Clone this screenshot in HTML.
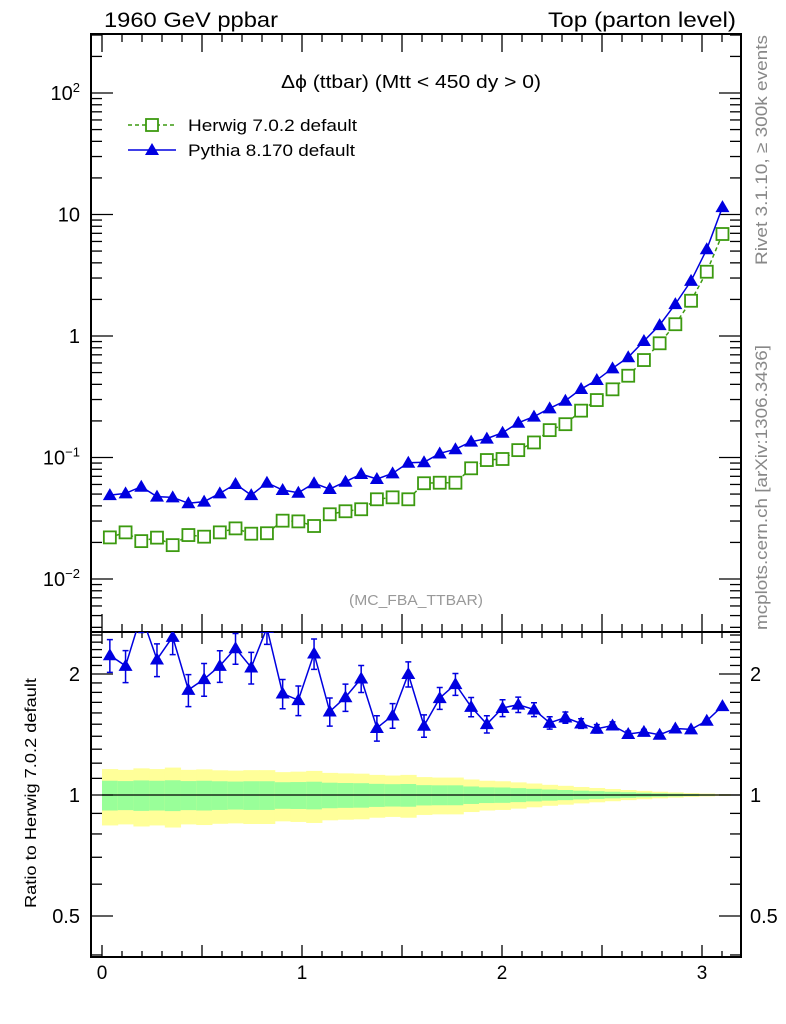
<!DOCTYPE html>
<html><head><meta charset="utf-8">
<style>
html,body{margin:0;padding:0;background:#fff;}
svg{display:block;font-family:"Liberation Sans",Arial,sans-serif;}
</style></head>
<body>
<svg id="chart" width="786" height="1024" viewBox="0 0 786 1024" xmlns="http://www.w3.org/2000/svg">
<g id="bands"></g>
<g id="axes"></g>
<g id="series"></g>
<text x="104" y="27" font-size="21" textLength="174" lengthAdjust="spacingAndGlyphs">1960 GeV ppbar</text>
<text x="548" y="27" font-size="21" textLength="188" lengthAdjust="spacingAndGlyphs">Top (parton level)</text>
<text x="281" y="88" font-size="18" textLength="260" lengthAdjust="spacingAndGlyphs">Δϕ (ttbar) (Mtt &lt; 450 dy &gt; 0)</text>
<text x="349" y="605" font-size="15" fill="#999" textLength="134" lengthAdjust="spacingAndGlyphs">(MC_FBA_TTBAR)</text>
<text transform="translate(767,265) rotate(-90)" font-size="17" fill="#888" textLength="230" lengthAdjust="spacingAndGlyphs">Rivet 3.1.10, ≥ 300k events</text>
<text transform="translate(767,630) rotate(-90)" font-size="17" fill="#888" textLength="285" lengthAdjust="spacingAndGlyphs">mcplots.cern.ch [arXiv:1306.3436]</text>
<text transform="translate(36,908) rotate(-90)" font-size="16" textLength="230" lengthAdjust="spacingAndGlyphs">Ratio to Herwig 7.0.2 default</text>
<g>
  <g>
    <line x1="128" y1="125" x2="176" y2="125" stroke="#3c9a10" stroke-width="1.5" stroke-dasharray="4,3"/>
    <rect x="146" y="119" width="12" height="12" fill="#fff" stroke="#3c9a10" stroke-width="1.8"/>
    <text x="188" y="131" font-size="17" textLength="169" lengthAdjust="spacingAndGlyphs">Herwig 7.0.2 default</text>
  </g>
  <g>
    <line x1="128" y1="150" x2="176" y2="150" stroke="#0000e0" stroke-width="1.5"/>
    <polygon points="152,143 159,155 145,155" fill="#0000e0"/>
    <text x="188" y="156" font-size="17" textLength="167" lengthAdjust="spacingAndGlyphs">Pythia 8.170 default</text>
  </g>
</g>
</svg>
<script>
const herwig=[0.0220,0.0242,0.0205,0.0219,0.0190,0.0230,0.0223,0.0242,0.0261,0.0236,0.0238,0.0302,0.0298,0.0273,0.0341,0.0361,0.0375,0.0453,0.0470,0.0453,0.0614,0.0620,0.0620,0.0815,0.0953,0.0972,0.115,0.133,0.168,0.188,0.243,0.297,0.364,0.471,0.634,0.871,1.25,1.95,3.38,6.91];
const pythia=[0.049,0.0507,0.0575,0.0476,0.047,0.042,0.0433,0.0507,0.0605,0.049,0.062,0.054,0.0513,0.0614,0.055,0.0632,0.0731,0.0665,0.0741,0.0906,0.0913,0.108,0.117,0.135,0.143,0.16,0.193,0.217,0.254,0.293,0.366,0.434,0.542,0.668,0.91,1.23,1.83,2.84,5.17,11.5];
const statErr=[0.085,0.083,0.087,0.085,0.088,0.083,0.085,0.082,0.080,0.082,0.082,0.076,0.077,0.079,0.073,0.071,0.070,0.066,0.064,0.065,0.058,0.057,0.057,0.050,0.045,0.044,0.040,0.036,0.032,0.029,0.025,0.022,0.019,0.016,0.013,0.010,0.008,0.006,0.004,0.003];
const totErr=[0.160,0.155,0.165,0.160,0.170,0.155,0.158,0.152,0.150,0.153,0.153,0.140,0.143,0.148,0.135,0.132,0.130,0.122,0.118,0.122,0.108,0.105,0.105,0.093,0.085,0.082,0.075,0.068,0.060,0.054,0.047,0.041,0.035,0.029,0.024,0.019,0.015,0.011,0.008,0.005];
const xTicks=[0,1,2,3];
const yMainTicks=[100,10,1,0.1,0.01];
const yMainLabels=["10<tspan dy='-8' font-size='13'>2</tspan>","10","1","10<tspan dy='-8' font-size='13'>−1</tspan>","10<tspan dy='-8' font-size='13'>−2</tspan>"];
const yRatioTicks=[2,1,0.5];
const yRatioLabels=["2","1","0.5"];

const NS="http://www.w3.org/2000/svg";
const L=91,R=741,T=34,M=632,B=957;
const nb=herwig.length, binW=Math.PI/nb;
const X=v=>102+200*v;
const Y=v=>336-121.5*Math.log10(v);
const YR=v=>795-402*Math.log10(v);
function mk(tag,attrs,parent){const e=document.createElementNS(NS,tag);for(const k in attrs)e.setAttribute(k,attrs[k]);parent.appendChild(e);return e;}
const axes=document.getElementById('axes'),series=document.getElementById('series'),bands=document.getElementById('bands');

for(let i=0;i<nb;i++){
  const x0=X(i*binW),x1=X((i+1)*binW);
  const y=mk('rect',{x:x0,y:YR(1+totErr[i]),width:x1-x0+0.5,height:YR(1-totErr[i])-YR(1+totErr[i]),fill:'#ffff99'},bands);
  
  
  const g=mk('rect',{x:x0,y:YR(1+statErr[i]),width:x1-x0+0.5,height:YR(1-statErr[i])-YR(1+statErr[i]),fill:'#99ff99'},bands);
  
  
}
const ref=mk('line',{x1:X(0),y1:YR(1),x2:R,y2:YR(1),stroke:'#000','stroke-width':1.3},bands);



const f1=mk('rect',{x:L,y:T,width:R-L,height:M-T,fill:'none',stroke:'#000','stroke-width':2},axes);


const f2=mk('rect',{x:L,y:M,width:R-L,height:B-M,fill:'none',stroke:'#000','stroke-width':2},axes);



for(let k=0;k<=32;k++){
  const v=k*0.1; if(X(v)>R-1) break;
  const major=(k%5===0), len=major?18:8;
  const lenB=major?12:6;
  [[T,1],[M,-1],[M,1],[B,-1]].forEach(([yy,d])=>{
    const ll=(yy===T||yy===M&&d===-1)?len:lenB;
    const t=mk('line',{x1:X(v),y1:yy,x2:X(v),y2:yy+d*ll,stroke:'#000','stroke-width':1.3},axes);
    
    
  });
}
xTicks.forEach(v=>{
  const t=mk('text',{x:X(v),y:979,'font-size':19,'text-anchor':'middle'},axes);
  t.textContent=v;
  
  
});
for(let e=-3;e<=2;e++){
  for(let m=1;m<=9;m++){
    const v=m*Math.pow(10,e),y=Y(v);
    if(y<T||y>M) continue;
    const len=m===1?22:11;
    [[L,1],[R,-1]].forEach(([xx,d])=>{
      const t=mk('line',{x1:xx,y1:y,x2:xx+d*len,y2:y,stroke:'#000','stroke-width':1.3},axes);
      
      
    });
  }
}
yMainTicks.forEach((v,i)=>{
  const t=mk('text',{x:80,y:Y(v)+7,'font-size':20,'text-anchor':'end'},axes);
  t.innerHTML=yMainLabels[i];
  
  
});
for(let k=4;k<=25;k++){
  const v=k/10,y=YR(v);
  if(y<M||y>B) continue;
  const major=(v===0.5||v===1||v===2),len=major?22:11;
  [[L,1],[R,-1]].forEach(([xx,d])=>{
    const t=mk('line',{x1:xx,y1:y,x2:xx+d*len,y2:y,stroke:'#000','stroke-width':1.3},axes);
    
    
  });
}
yRatioTicks.forEach((v,i)=>{
  const a=mk('text',{x:80,y:YR(v)+7,'font-size':20,'text-anchor':'end'},axes);
  a.textContent=yRatioLabels[i];
  
  
  const b=mk('text',{x:750,y:YR(v)+7,'font-size':20},axes);
  b.textContent=yRatioLabels[i];
  
  
});

const cx=i=>X((i+0.5)*binW);
const hp=mk('polyline',{points:herwig.map((v,i)=>cx(i)+','+Y(v)).join(' '),fill:'none',stroke:'#3c9a10','stroke-width':1.5,'stroke-dasharray':'4,3'},series);


herwig.forEach((v,i)=>{
  const r=mk('rect',{x:cx(i)-6,y:Y(v)-6,width:12,height:12,fill:'#fff',stroke:'#3c9a10','stroke-width':1.8},series);
  
  
});
const pp=mk('polyline',{points:pythia.map((v,i)=>cx(i)+','+Y(v)).join(' '),fill:'none',stroke:'#0000e0','stroke-width':1.5},series);


const tri=(x,y)=>`${x},${y-7} ${x+7},${y+5} ${x-7},${y+5}`;
pythia.forEach((v,i)=>{
  const p=mk('polygon',{points:tri(cx(i),Y(v)),fill:'#0000e0'},series);
  
  
});
const cl=document.createElementNS(NS,'clipPath');cl.id='rclip';
mk('rect',{x:L,y:M,width:R-L,height:B-M},cl);series.appendChild(cl);
const rg=mk('g',{'clip-path':'url(#rclip)'},series);


const ratio=pythia.map((v,i)=>v/herwig[i]);
const rl=mk('polyline',{points:ratio.map((v,i)=>cx(i)+','+YR(v)).join(' '),fill:'none',stroke:'#0000e0','stroke-width':1.5},rg);


ratio.forEach((v,i)=>{
  const e=statErr[i]*1.1*v, x=cx(i);
  const y1=YR(v+e),y2=YR(v-e);
  const eb=mk('path',{d:`M${x},${y1}V${y2}M${x-3},${y1}H${x+3}M${x-3},${y2}H${x+3}`,stroke:'#0000e0','stroke-width':1.5,fill:'none'},rg);
  
  
  const p=mk('polygon',{points:tri(x,YR(v)),fill:'#0000e0'},rg);
  
  
});
</script>
</body></html>
